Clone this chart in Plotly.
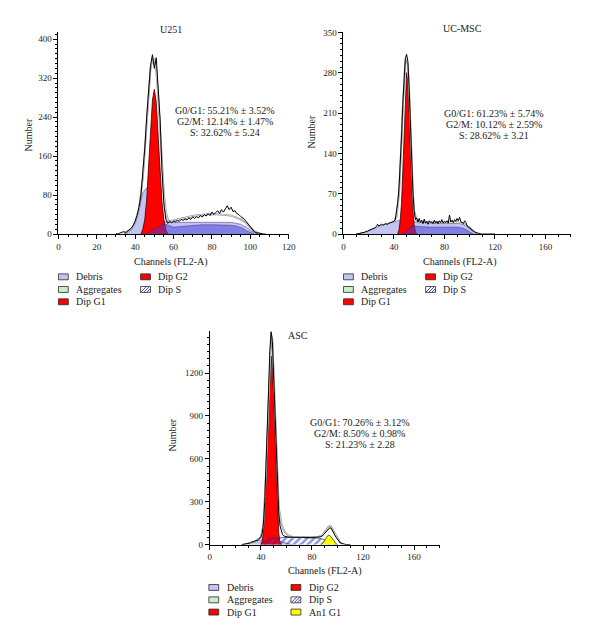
import plotly.graph_objects as go

W, H = 600, 644
SERIF = "Liberation Serif"

# ---------------- U251 ----------------
u_title = "U251"
u_stats = ["G0/G1: 55.21% \u00b1 3.52%", "G2/M: 12.14% \u00b1 1.47%", "S: 32.62% \u00b1 5.24"]
u_obs = [1, 0, 2, 4, 5, 3, 6, 8, 12, 18,            # 30-39
         26, 38, 55, 80, 120, 175, 240, 300, 345, 368,   # 40-49
         340, 362, 300, 235, 130, 60, 30, 22, 26, 23,     # 50-59
         27, 25, 28, 26, 30, 28, 31, 29, 33, 30,          # 60-69
         35, 32, 36, 33, 38, 35, 40, 37, 42, 38,          # 70-79
         45, 40, 44, 48, 42, 50, 45, 52, 58, 50,          # 80-89
         55, 46, 48, 42, 40, 36, 33, 30, 25, 20,          # 90-99
         14, 9, 5, 3, 2, 1, 1, 0, 0]                      # 100-108
u_ch = list(range(30, 30 + len(u_obs)))
u_fit_ch = [34, 36, 38, 40, 42, 44, 45, 46, 47, 48, 49, 50, 51, 52, 53, 54, 55, 56, 57, 58,
            60, 65, 70, 75, 80, 85, 90, 95, 98, 100, 102, 104, 106]
u_fit = [2, 5, 10, 24, 52, 115, 170, 235, 295, 340, 360, 358, 335, 285, 215, 140, 80, 45, 30, 26,
         28, 33, 37, 40, 41, 40, 38, 30, 22, 14, 6, 2, 0]
u_debris_ch = [34, 36, 38, 40, 42, 44, 46, 48, 50, 52, 54, 56, 58, 60, 65, 70, 75, 80, 85, 90,
               95, 98, 100, 102, 104]
u_debris = [0, 3, 10, 25, 50, 85, 95, 80, 60, 42, 30, 25, 24, 24, 24, 25, 25, 25, 25, 24,
            20, 14, 8, 3, 0]
u_s_ch = [46, 48, 50, 52, 54, 56, 58, 60, 65, 70, 75, 80, 85, 90, 93, 96, 98, 100, 102]
u_s = [0, 4, 9, 14, 19, 20, 17, 14, 16, 18, 19, 19, 19, 18, 16, 12, 7, 3, 0]
u_g1 = [0, 10, 30, 70, 140, 215, 275, 297, 270, 200, 125, 65, 28, 8, 0]
u_g1_ch = list(range(43, 43 + len(u_g1)))
u_marks = [50]

# ---------------- UC-MSC ----------------
c_title = "UC-MSC"
c_stats = ["G0/G1: 61.23% \u00b1 5.74%", "G2/M: 10.12% \u00b1 2.59%", "S: 28.62% \u00b1 3.21"]
c_obs = [0, 0, 1, 1, 2, 2, 3, 3, 5, 4,                    # 10-19
         6, 7, 8, 8, 10, 11, 13, 17, 14, 15,              # 20-29
         17, 16, 16, 18, 18, 17, 19, 20, 20, 21,          # 30-39
         22, 25, 38, 55, 80, 120, 170, 225, 275, 305,     # 40-49
         312, 300, 255, 190, 125, 75, 40, 25, 28, 21,     # 50-59
         27, 20, 24, 18, 26, 19, 22, 17, 23, 20,          # 60-69
         21, 18, 24, 19, 22, 18, 23, 20, 25, 19,          # 70-79
         22, 20, 23, 19, 33, 21, 24, 20, 25, 22,          # 80-89
         27, 23, 29, 21, 20, 18, 23, 20, 14, 12,          # 90-99
         11, 8, 6, 5, 4, 2, 2, 1, 1, 0,                   # 100-109
         0, 0, 1, 0, 0, 1, 0, 0, 1, 0, 0]                 # 110-120
c_ch = list(range(10, 10 + len(c_obs)))
c_fit_ch = [40, 42, 44, 45, 46, 47, 48, 49, 50, 51, 52, 53, 54, 55, 56, 58, 60, 70, 80, 90,
            95, 100, 103, 106]
c_fit = [21, 30, 70, 110, 165, 222, 272, 300, 305, 292, 250, 185, 122, 72, 40, 24, 21, 20, 20, 20,
         18, 11, 5, 1]
c_debris_ch = [10, 15, 20, 25, 30, 35, 40, 42, 45, 50, 55, 60, 70, 80, 90, 95, 98, 101, 104, 106]
c_debris = [0, 2, 6, 11, 15, 18, 20, 22, 25, 25, 22, 20, 19, 19, 19, 17, 13, 7, 2, 0]
c_s_ch = [47, 50, 52, 54, 56, 60, 70, 80, 90, 95, 98, 101, 103]
c_s = [0, 5, 10, 13, 14, 13, 12, 12, 12, 10, 6, 2, 0]
c_g1 = [0, 8, 25, 55, 110, 180, 245, 280, 265, 210, 145, 85, 40, 15, 4, 0]
c_g1_ch = list(range(43, 43 + len(c_g1)))
c_marks = [50]

# ---------------- ASC ----------------
a_title = "ASC"
a_stats = ["G0/G1: 70.26% \u00b1 3.12%", "G2/M: 8.50% \u00b1 0.98%", "S: 21.23% \u00b1 2.28"]
a_obs = [0, 1, 2, 3, 5, 8, 10, 15, 17, 20,               # 25-34
         22, 25, 30, 35, 42, 55, 80, 150, 300, 520,       # 35-44
         780, 1080, 1350, 1490, 1420, 1180, 880, 600, 380, 220,  # 45-54
         130, 90, 70, 60, 57, 55, 54, 52, 53, 52,         # 55-64
         52, 51, 52, 50, 51, 50, 50, 51, 50, 50,          # 65-74
         50, 49, 50, 50, 49, 50, 50, 51, 51, 52,          # 75-84
         52, 54, 57, 60, 70, 80, 90, 100, 112, 118,       # 85-94
         115, 95, 80, 65, 50, 35, 25, 15, 10, 6,          # 95-104
         4, 2, 1, 0, 0, 0]                                # 105-110
a_ch = list(range(25, 25 + len(a_obs)))
a_fit_ch = [30, 35, 40, 42, 44, 46, 47, 48, 49, 50, 52, 54, 56, 58, 60, 62, 65, 70, 80, 85,
            88, 90, 92, 93, 94, 95, 96, 98, 100, 102, 104]
a_fit = [8, 22, 50, 140, 500, 1060, 1340, 1470, 1430, 1200, 640, 260, 150, 100, 75, 62, 55, 52, 52, 55,
         65, 90, 115, 125, 130, 125, 110, 75, 40, 15, 4]
a_debris_ch = [25, 28, 32, 36, 40, 44, 48, 52, 56, 60, 64]
a_debris = [0, 5, 15, 25, 35, 40, 40, 30, 15, 5, 0]
a_s_ch = [40, 42, 44, 46, 48, 52, 60, 70, 80, 86, 90, 93, 96, 99]
a_s = [0, 15, 30, 40, 45, 48, 50, 50, 48, 45, 35, 20, 8, 0]
a_g1 = [0, 25, 90, 260, 460, 650, 920, 1180, 1320, 1250, 1020, 720, 500, 280, 80, 15, 0]
a_g1_ch = list(range(40, 40 + len(a_g1)))
a_an1_ch = [87, 89, 91, 93, 95, 97, 99, 100]
a_an1 = [0, 15, 45, 68, 55, 25, 5, 0]
a_marks = [48, 94]

legend_top = ["Debris", "Aggregates", "Dip G1", "Dip G2", "Dip S"]
legend_asc = ["Debris", "Aggregates", "Dip G1", "Dip G2", "Dip S", "An1 G1"]

LAV = "rgb(196,196,242)"
LAV_LINE = "rgb(100,100,150)"
RED = "rgb(255,0,0)"
GREEN = "rgb(200,240,200)"
YELLOW = "rgb(255,255,0)"
S_BLUE = "rgba(60,60,210,0.5)"

fig = go.Figure()


def px(x):
    return x / W


def py(y):
    return 1 - y / H


def panel(xa, ya, ymax, debris, s, g1, fit, obs, marks, an1=None, hatch=False, tri=9):
    kw = dict(xaxis=xa, yaxis=ya, mode="lines", hoverinfo="skip", showlegend=False)
    fig.add_trace(go.Scatter(x=debris[0], y=debris[1], fill="tozeroy", fillcolor=LAV,
                             line=dict(color=LAV_LINE, width=0.7), **kw))
    fig.add_trace(go.Scatter(x=g1[0], y=g1[1], fill="tozeroy", fillcolor=RED,
                             line=dict(color="rgb(60,0,0)", width=0.8), **kw))
    if hatch:
        fig.add_trace(go.Scatter(x=s[0], y=s[1], fill="tozeroy", fillcolor="rgba(0,0,0,0)",
                                 fillpattern=dict(shape="/", fgcolor="rgb(40,40,190)",
                                                  bgcolor="rgba(255,255,255,0)", size=5, solidity=0.5),
                                 line=dict(color="rgb(40,40,120)", width=0.7), **kw))
    else:
        fig.add_trace(go.Scatter(x=s[0], y=s[1], fill="tozeroy", fillcolor=S_BLUE,
                                 line=dict(color="rgba(40,40,140,0.8)", width=0.6), **kw))
    if an1 is not None:
        fig.add_trace(go.Scatter(x=an1[0], y=an1[1], fill="tozeroy", fillcolor=YELLOW,
                                 line=dict(color="rgb(60,60,0)", width=0.8), **kw))
    fig.add_trace(go.Scatter(x=fit[0], y=fit[1], line=dict(color="rgb(130,130,130)", width=1.8), **kw))
    fig.add_trace(go.Scatter(x=fit[0], y=fit[1], line=dict(color="white", width=0.7), **kw))
    fig.add_trace(go.Scatter(x=obs[0], y=obs[1], line=dict(color="black", width=1), **kw))
    fig.add_trace(go.Scatter(x=marks, y=[-0.02 * ymax] * len(marks), xaxis=xa, yaxis=ya,
                             mode="markers", cliponaxis=False, hoverinfo="skip", showlegend=False,
                             marker=dict(symbol="triangle-up", size=tri, color="black")))


panel("x", "y", 415.5, (u_debris_ch, u_debris), (u_s_ch, u_s), (u_g1_ch, u_g1),
      (u_fit_ch, u_fit), (u_ch, u_obs), u_marks)
panel("x2", "y2", 351.5, (c_debris_ch, c_debris), (c_s_ch, c_s), (c_g1_ch, c_g1),
      (c_fit_ch, c_fit), (c_ch, c_obs), c_marks)
panel("x3", "y3", 1492, (a_debris_ch, a_debris), (a_s_ch, a_s), (a_g1_ch, a_g1),
      (a_fit_ch, a_fit), (a_ch, a_obs), a_marks, an1=(a_an1_ch, a_an1), hatch=True, tri=7)


def axis(domain, rng, dtick, minor, anchor):
    return dict(domain=domain, range=rng, dtick=dtick, tick0=0, anchor=anchor,
                showline=True, linecolor="black", linewidth=1,
                ticks="outside", ticklen=4, tickwidth=1, tickcolor="black",
                minor=dict(dtick=minor, ticklen=2, tickcolor="black", ticks="outside"),
                showgrid=False, zeroline=False, fixedrange=True,
                tickfont=dict(family=SERIF, size=9, color="#222"))


fig.update_layout(
    width=W, height=H, margin=dict(l=0, r=0, t=0, b=0),
    paper_bgcolor="white", plot_bgcolor="white", showlegend=False,
    xaxis=axis([px(57.3), px(291)], [0, 120], 20, 5, "y"),
    yaxis=axis([py(233.3), py(28)], [0, 415.5], 80, 10, "x"),
    xaxis2=axis([px(346.7), px(577.3)], [0, 180], 40, 10, "y2"),
    yaxis2=axis([py(233.3), py(28)], [0, 351.5], 70, 10, "x2"),
    xaxis3=axis([px(211), px(444.3)], [0, 180], 40, 10, "y3"),
    yaxis3=axis([py(548.3), py(332)], [0, 1492], 300, 50, "x3"),
)

ann = []
shapes = []


def text(x, y, s, size=10, angle=0, xanchor="center"):
    ann.append(dict(x=px(x), y=py(y), xref="paper", yref="paper", text=s, showarrow=False,
                    textangle=angle, xanchor=xanchor, yanchor="middle",
                    font=dict(family=SERIF, size=size, color="#222")))


# titles, axis titles, stats
for title, tx, ty in [(u_title, 172, 26), (c_title, 468, 25), (a_title, 301, 336)]:
    text(tx, ty, title)
for nx, ny in [(26.7, 133), (314, 130), (173.3, 437)]:
    text(nx, ny, "Number", angle=-90)
for cx, cy in [(172, 262), (465, 262), (327.7, 575)]:
    text(cx, cy, "Channels (FL2-A)")
for stats, sx, sy in [(u_stats, 226, 108), (c_stats, 499.3, 110.7), (a_stats, 363.3, 424)]:
    for i, line in enumerate(stats):
        text(sx, sy + i * 11.3, line)

STYLE = {
    "Debris": (LAV, None),
    "Aggregates": (GREEN, None),
    "Dip G1": (RED, None),
    "Dip G2": (RED, None),
    "Dip S": ("white", "hatch"),
    "An1 G1": (YELLOW, None),
}


def legend(x0, rows, labels):
    for i, lab in enumerate(labels):
        col, row = divmod(i, 3)
        sx = x0 + col * 83.4
        sy = rows[row]
        fill, kind = STYLE[lab]
        shapes.append(dict(type="rect", xref="paper", yref="paper",
                           x0=px(sx), x1=px(sx + 10), y0=py(sy + 3), y1=py(sy - 3),
                           fillcolor=fill, line=dict(color="rgb(40,40,40)", width=0.8)))
        if kind == "hatch":
            for k in range(4):
                a = sx + k * 3
                shapes.append(dict(type="line", xref="paper", yref="paper",
                                   x0=px(a), y0=py(sy + 3), x1=px(min(a + 6, sx + 10)),
                                   y1=py(sy + 3 - (min(a + 6, sx + 10) - a)),
                                   line=dict(color="rgb(70,70,200)", width=1)))
        text(sx + 16, sy, lab, xanchor="left")


legend(57.3, [276.7, 289.5, 302], legend_top)
legend(346.7, [276.7, 289.5, 302], legend_top)
legend(210, [591.7, 604.3, 616.7], legend_asc)

fig.update_layout(annotations=ann, shapes=shapes)
fig.write_html("out.html", config={"displayModeBar": False},
               post_script="document.body.style.margin='0';")
